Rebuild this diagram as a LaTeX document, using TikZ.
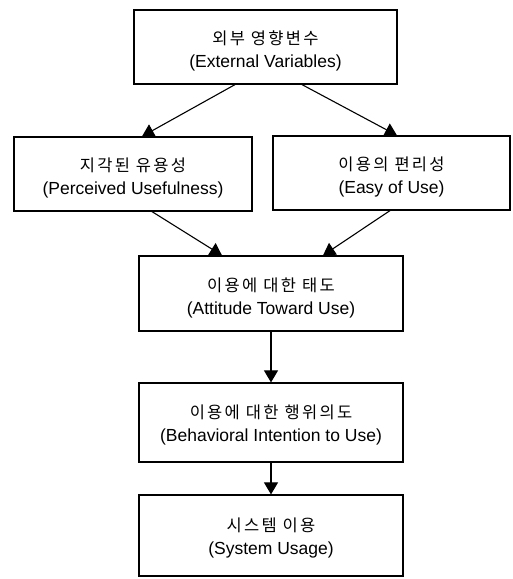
\documentclass[tikz,border=0pt]{standalone}
\usepackage{fontspec}
\setmainfont{Liberation Sans}
\newfontfamily\kr[LetterSpace=14]{Noto Sans CJK KR}
\usetikzlibrary{arrows.meta,calc}
\newcommand\twoline[2]{{\kr\fontsize{16.5}{23}\selectfont #1}\\#2}
\begin{document}
\begin{tikzpicture}[x=1pt,y=-1pt,
  box/.style={draw,line width=1.2pt,rectangle,inner sep=0pt},
  txt/.style={align=center,inner sep=0pt,font=\fontsize{17.5}{23}\selectfont},
  arr/.style={line width=1.1pt,-{Triangle[width=14pt,length=12pt]}}]
\useasboundingbox (0,0) rectangle (513,579);
\node[box,minimum width=263pt,minimum height=74pt] (b1) at (265.5,47) {};
\node[box,minimum width=238pt,minimum height=74pt] (b2) at (133,174) {};
\node[box,minimum width=237pt,minimum height=74pt] (b3) at (391.5,173) {};
\node[box,minimum width=264pt,minimum height=75pt] (b4) at (271,293.5) {};
\node[box,minimum width=264pt,minimum height=79pt] (b5) at (271,422.5) {};
\node[box,minimum width=264pt,minimum height=81pt] (b6) at (271,535.5) {};
\node[txt] (t1) at ([yshift=-4pt]b1.center) {\twoline{외부 영향변수}{(External Variables)}};
\node[txt] (t2) at ([yshift=-4pt]b2.center) {\twoline{지각된 유용성}{(Perceived Usefulness)}};
\node[txt] (t3) at ([yshift=-4pt]b3.center) {\twoline{이용의 편리성}{(Easy of Use)}};
\node[txt] (t4) at ([yshift=-4pt]b4.center) {\twoline{이용에 대한 태도}{(Attitude Toward Use)}};
\node[txt] (t5) at ([yshift=-2pt]b5.center) {\twoline{이용에 대한 행위의도}{(Behavioral Intention to Use)}};
\node[txt] (t6) at ([yshift=-2pt]b6.center) {\twoline{시스템 이용}{(System Usage)}};
\draw[arr] ([xshift=-30.5pt]b1.south) -- ([xshift=9pt]b2.north);
\draw[arr] ([xshift=36.5pt]b1.south) -- ([xshift=5.5pt]b3.north);
\draw[arr] ([xshift=19pt]b2.south) -- ([xshift=-49pt]b4.north);
\draw[arr] ([xshift=-1.5pt]b3.south) -- ([xshift=52pt]b4.north);
\draw[arr] (b4.south) -- (b5.north);
\draw[arr] (b5.south) -- (b6.north);
\end{tikzpicture}
\end{document}
